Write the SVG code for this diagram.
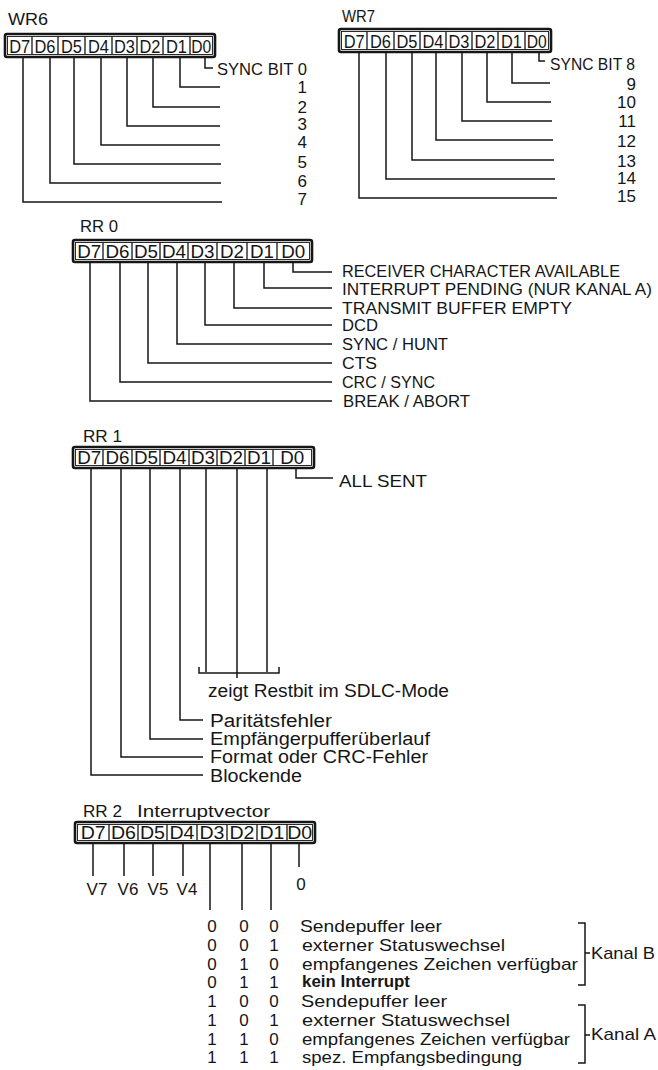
<svg xmlns="http://www.w3.org/2000/svg" width="658" height="1070" viewBox="0 0 658 1070">
<style>
.ln{fill:none;stroke:#161616;stroke-width:1.5}
.frame{fill:#fff;stroke:#161616;stroke-width:2.6}
.inner{fill:none;stroke:#161616;stroke-width:0.9}
.div{fill:none;stroke:#161616;stroke-width:1.3}
text{font-family:"Liberation Sans",Arial,sans-serif;fill:#161616}
.cell{font-size:18px;text-anchor:middle}
.ttl{font-size:16px}
.lbl{font-size:17px}
.cap{font-size:16px}
.lc{font-size:18px}
.num{font-size:17px;text-anchor:end}
.mid{font-size:17px;text-anchor:middle}
</style>
<rect width="658" height="1070" fill="#fff"/>

<g id="connectors">
  <path class="ln" d="M205,57V68H213M180,57V87H220M153,57V107H220M127,57V126H220M101,57V145H220M74,57V164H221M50,57V183H221M23,57V202H222"/>
  <path class="ln" d="M539,52V61H545M512,52V83H550M487,52V102H551M462,52V121H552M436,52V140H553M412,52V160H554M386,52V179H555M359,52V198H557"/>
  <path class="ln" d="M293,262V272H332M264,262V288H332M234,262V308H332M205,262V325H332M177,262V344H332M148,262V363H332M120,262V382H332M90,262V401H332"/>
  <path class="ln" d="M296,468V478H333M267,468V672M237,468V678M206,468V672M199,667V673H279V667M180,468V720H203M150,468V739H203M121,468V757H203M91,468V775H203"/>
  <path class="ln" d="M93,843V876M124,843V876M153,843V876M183,843V876M210,843V910M242,843V910M271,843V910M299,843V867"/>
  <path class="ln" d="M578,923H585V985H578M585,953H590M578,1005H585V1063H578M585,1035H590"/>
</g>

<g id="wr6">
  <text class="ttl" x="8" y="25" textLength="40" lengthAdjust="spacingAndGlyphs">WR6</text>
  <rect class="frame" x="5" y="34" width="210" height="23" rx="2"/>
  <rect class="inner" x="7.5" y="36.5" width="205" height="18"/>
  <path class="div" d="M32,36.5V54.5M58,36.5V54.5M85,36.5V54.5M112,36.5V54.5M137,36.5V54.5M163,36.5V54.5M190,36.5V54.5"/>
  <g class="cell">
    <text x="19.75" y="52.5" textLength="21" lengthAdjust="spacingAndGlyphs">D7</text>
    <text x="45" y="52.5" textLength="21" lengthAdjust="spacingAndGlyphs">D6</text>
    <text x="71.5" y="52.5" textLength="21" lengthAdjust="spacingAndGlyphs">D5</text>
    <text x="98.5" y="52.5" textLength="21" lengthAdjust="spacingAndGlyphs">D4</text>
    <text x="124.5" y="52.5" textLength="21" lengthAdjust="spacingAndGlyphs">D3</text>
    <text x="150" y="52.5" textLength="21" lengthAdjust="spacingAndGlyphs">D2</text>
    <text x="176.5" y="52.5" textLength="21" lengthAdjust="spacingAndGlyphs">D1</text>
    <text x="201.25" y="52.5" textLength="20" lengthAdjust="spacingAndGlyphs">D0</text>
  </g>
</g>

<g id="wr7">
  <text class="ttl" x="342" y="22" textLength="33" lengthAdjust="spacingAndGlyphs">WR7</text>
  <rect class="frame" x="339" y="29" width="212" height="23" rx="2"/>
  <rect class="inner" x="341.5" y="31.5" width="207" height="18"/>
  <path class="div" d="M367,31.5V49.5M394,31.5V49.5M420,31.5V49.5M446,31.5V49.5M472,31.5V49.5M498,31.5V49.5M525,31.5V49.5"/>
  <g class="cell">
    <text x="354.25" y="47.5" textLength="21" lengthAdjust="spacingAndGlyphs">D7</text>
    <text x="380.5" y="47.5" textLength="21" lengthAdjust="spacingAndGlyphs">D6</text>
    <text x="407" y="47.5" textLength="21" lengthAdjust="spacingAndGlyphs">D5</text>
    <text x="433" y="47.5" textLength="21" lengthAdjust="spacingAndGlyphs">D4</text>
    <text x="459" y="47.5" textLength="21" lengthAdjust="spacingAndGlyphs">D3</text>
    <text x="485" y="47.5" textLength="21" lengthAdjust="spacingAndGlyphs">D2</text>
    <text x="511.5" y="47.5" textLength="21" lengthAdjust="spacingAndGlyphs">D1</text>
    <text x="536.75" y="47.5" textLength="20" lengthAdjust="spacingAndGlyphs">D0</text>
  </g>
</g>

<g id="rr0">
  <text class="ttl" x="80" y="232" textLength="38" lengthAdjust="spacingAndGlyphs">RR 0</text>
  <rect class="frame" x="73" y="240" width="239" height="22" rx="2"/>
  <rect class="inner" x="75.5" y="242.5" width="234" height="17"/>
  <path class="div" d="M103,242.5V259.5M132,242.5V259.5M160,242.5V259.5M188,242.5V259.5M217,242.5V259.5M247,242.5V259.5M277,242.5V259.5"/>
  <g class="cell">
    <text x="89.25" y="257.5" textLength="24" lengthAdjust="spacingAndGlyphs">D7</text>
    <text x="117.5" y="257.5" textLength="24" lengthAdjust="spacingAndGlyphs">D6</text>
    <text x="146" y="257.5" textLength="24" lengthAdjust="spacingAndGlyphs">D5</text>
    <text x="174" y="257.5" textLength="24" lengthAdjust="spacingAndGlyphs">D4</text>
    <text x="202.5" y="257.5" textLength="24" lengthAdjust="spacingAndGlyphs">D3</text>
    <text x="232" y="257.5" textLength="24" lengthAdjust="spacingAndGlyphs">D2</text>
    <text x="262" y="257.5" textLength="24" lengthAdjust="spacingAndGlyphs">D1</text>
    <text x="293.25" y="257.5" textLength="24" lengthAdjust="spacingAndGlyphs">D0</text>
  </g>
</g>

<g id="rr1">
  <text class="ttl" x="83" y="442" textLength="39" lengthAdjust="spacingAndGlyphs">RR 1</text>
  <rect class="frame" x="73" y="447" width="241" height="21" rx="2"/>
  <rect class="inner" x="75.5" y="449.5" width="236" height="16"/>
  <path class="div" d="M103,449.5V465.5M132,449.5V465.5M160,449.5V465.5M189,449.5V465.5M217,449.5V465.5M245,449.5V465.5M273,449.5V465.5"/>
  <g class="cell">
    <text x="89.25" y="463.5" textLength="24" lengthAdjust="spacingAndGlyphs">D7</text>
    <text x="117.5" y="463.5" textLength="24" lengthAdjust="spacingAndGlyphs">D6</text>
    <text x="146" y="463.5" textLength="24" lengthAdjust="spacingAndGlyphs">D5</text>
    <text x="174.5" y="463.5" textLength="24" lengthAdjust="spacingAndGlyphs">D4</text>
    <text x="203" y="463.5" textLength="24" lengthAdjust="spacingAndGlyphs">D3</text>
    <text x="231" y="463.5" textLength="24" lengthAdjust="spacingAndGlyphs">D2</text>
    <text x="259" y="463.5" textLength="24" lengthAdjust="spacingAndGlyphs">D1</text>
    <text x="292.25" y="463.5" textLength="24" lengthAdjust="spacingAndGlyphs">D0</text>
  </g>
</g>

<g id="rr2">
  <text class="ttl" x="83" y="817"><tspan textLength="39" lengthAdjust="spacingAndGlyphs">RR 2</tspan><tspan x="137" textLength="133" lengthAdjust="spacingAndGlyphs">Interruptvector</tspan></text>
  <rect class="frame" x="75" y="822" width="240" height="21" rx="2"/>
  <rect class="inner" x="77.5" y="824.5" width="235" height="16"/>
  <path class="div" d="M109,824.5V840.5M138,824.5V840.5M167,824.5V840.5M197,824.5V840.5M227,824.5V840.5M257,824.5V840.5M287,824.5V840.5"/>
  <g class="cell">
    <text x="93.25" y="838.5" textLength="25" lengthAdjust="spacingAndGlyphs">D7</text>
    <text x="123.5" y="838.5" textLength="25" lengthAdjust="spacingAndGlyphs">D6</text>
    <text x="152.5" y="838.5" textLength="25" lengthAdjust="spacingAndGlyphs">D5</text>
    <text x="182" y="838.5" textLength="25" lengthAdjust="spacingAndGlyphs">D4</text>
    <text x="212" y="838.5" textLength="25" lengthAdjust="spacingAndGlyphs">D3</text>
    <text x="242" y="838.5" textLength="25" lengthAdjust="spacingAndGlyphs">D2</text>
    <text x="272" y="838.5" textLength="25" lengthAdjust="spacingAndGlyphs">D1</text>
    <text x="299.75" y="838.5" textLength="25" lengthAdjust="spacingAndGlyphs">D0</text>
  </g>
</g>

<g id="labels">
  <text class="lbl" x="217" y="75" textLength="90" lengthAdjust="spacingAndGlyphs">SYNC BIT 0</text>
  <text class="num" x="307" y="93">1</text>
  <text class="num" x="307" y="113">2</text>
  <text class="num" x="307" y="130">3</text>
  <text class="num" x="307" y="148">4</text>
  <text class="num" x="307" y="168">5</text>
  <text class="num" x="307" y="187">6</text>
  <text class="num" x="307" y="205">7</text>

  <text class="lbl" x="550" y="70" textLength="85" lengthAdjust="spacingAndGlyphs">SYNC BIT 8</text>
  <text class="num" x="636" y="90">9</text>
  <text class="num" x="636" y="108">10</text>
  <text class="num" x="636" y="127">11</text>
  <text class="num" x="636" y="147">12</text>
  <text class="num" x="636" y="167">13</text>
  <text class="num" x="636" y="184">14</text>
  <text class="num" x="636" y="202">15</text>

  <text class="cap" x="342" y="277" textLength="278" lengthAdjust="spacingAndGlyphs">RECEIVER CHARACTER AVAILABLE</text>
  <text class="cap" x="342" y="295" textLength="310" lengthAdjust="spacingAndGlyphs">INTERRUPT PENDING (NUR KANAL A)</text>
  <text class="cap" x="342" y="314" textLength="230" lengthAdjust="spacingAndGlyphs">TRANSMIT BUFFER EMPTY</text>
  <text class="cap" x="342" y="331" textLength="36" lengthAdjust="spacingAndGlyphs">DCD</text>
  <text class="cap" x="342" y="350" textLength="106" lengthAdjust="spacingAndGlyphs">SYNC / HUNT</text>
  <text class="cap" x="342" y="369" textLength="35" lengthAdjust="spacingAndGlyphs">CTS</text>
  <text class="cap" x="342" y="388" textLength="93" lengthAdjust="spacingAndGlyphs">CRC / SYNC</text>
  <text class="cap" x="343" y="407" textLength="127" lengthAdjust="spacingAndGlyphs">BREAK / ABORT</text>

  <text class="lbl" x="339" y="487" textLength="88" lengthAdjust="spacingAndGlyphs">ALL SENT</text>
  <text class="lc" x="208" y="697" textLength="241" lengthAdjust="spacingAndGlyphs">zeigt Restbit im SDLC-Mode</text>
  <text class="lc" x="210" y="727" textLength="122" lengthAdjust="spacingAndGlyphs">Paritätsfehler</text>
  <text class="lc" x="210" y="745" textLength="220" lengthAdjust="spacingAndGlyphs">Empfängerpufferüberlauf</text>
  <text class="lc" x="210" y="763" textLength="218" lengthAdjust="spacingAndGlyphs">Format oder CRC-Fehler</text>
  <text class="lc" x="210" y="782" textLength="92" lengthAdjust="spacingAndGlyphs">Blockende</text>

  <text class="mid" x="97" y="895">V7</text>
  <text class="mid" x="128" y="895">V6</text>
  <text class="mid" x="158" y="895">V5</text>
  <text class="mid" x="187" y="895">V4</text>
  <text class="mid" x="301" y="890">0</text>

  <g class="mid">
    <text x="212" y="932">0</text><text x="244" y="932">0</text><text x="274" y="932">0</text>
    <text x="212" y="951">0</text><text x="244" y="951">0</text><text x="274" y="951">1</text>
    <text x="212" y="970">0</text><text x="244" y="970">1</text><text x="274" y="970">0</text>
    <text x="212" y="988">0</text><text x="244" y="988">1</text><text x="274" y="988">1</text>
    <text x="212" y="1007">1</text><text x="244" y="1007">0</text><text x="274" y="1007">0</text>
    <text x="212" y="1026">1</text><text x="244" y="1026">0</text><text x="274" y="1026">1</text>
    <text x="212" y="1045">1</text><text x="244" y="1045">1</text><text x="274" y="1045">0</text>
    <text x="212" y="1063">1</text><text x="244" y="1063">1</text><text x="274" y="1063">1</text>
  </g>
  <text class="lbl" x="300" y="932" textLength="142" lengthAdjust="spacingAndGlyphs">Sendepuffer leer</text>
  <text class="lbl" x="302" y="951" textLength="203" lengthAdjust="spacingAndGlyphs">externer Statuswechsel</text>
  <text class="lbl" x="302" y="970" textLength="276" lengthAdjust="spacingAndGlyphs">empfangenes  Zeichen verfügbar</text>
  <text class="lbl" x="302" y="987" font-size="15" font-weight="bold" textLength="108" lengthAdjust="spacingAndGlyphs">kein Interrupt</text>
  <text class="lbl" x="301" y="1007" textLength="146" lengthAdjust="spacingAndGlyphs">Sendepuffer leer</text>
  <text class="lbl" x="302" y="1026" textLength="208" lengthAdjust="spacingAndGlyphs">externer Statuswechsel</text>
  <text class="lbl" x="302" y="1045" textLength="268" lengthAdjust="spacingAndGlyphs">empfangenes Zeichen verfügbar</text>
  <text class="lbl" x="302" y="1063" textLength="220" lengthAdjust="spacingAndGlyphs">spez. Empfangsbedingung</text>
  <text class="lbl" x="591" y="959" textLength="64" lengthAdjust="spacingAndGlyphs">Kanal B</text>
  <text class="lbl" x="591" y="1040" textLength="65" lengthAdjust="spacingAndGlyphs">Kanal A</text>
</g>
</svg>
